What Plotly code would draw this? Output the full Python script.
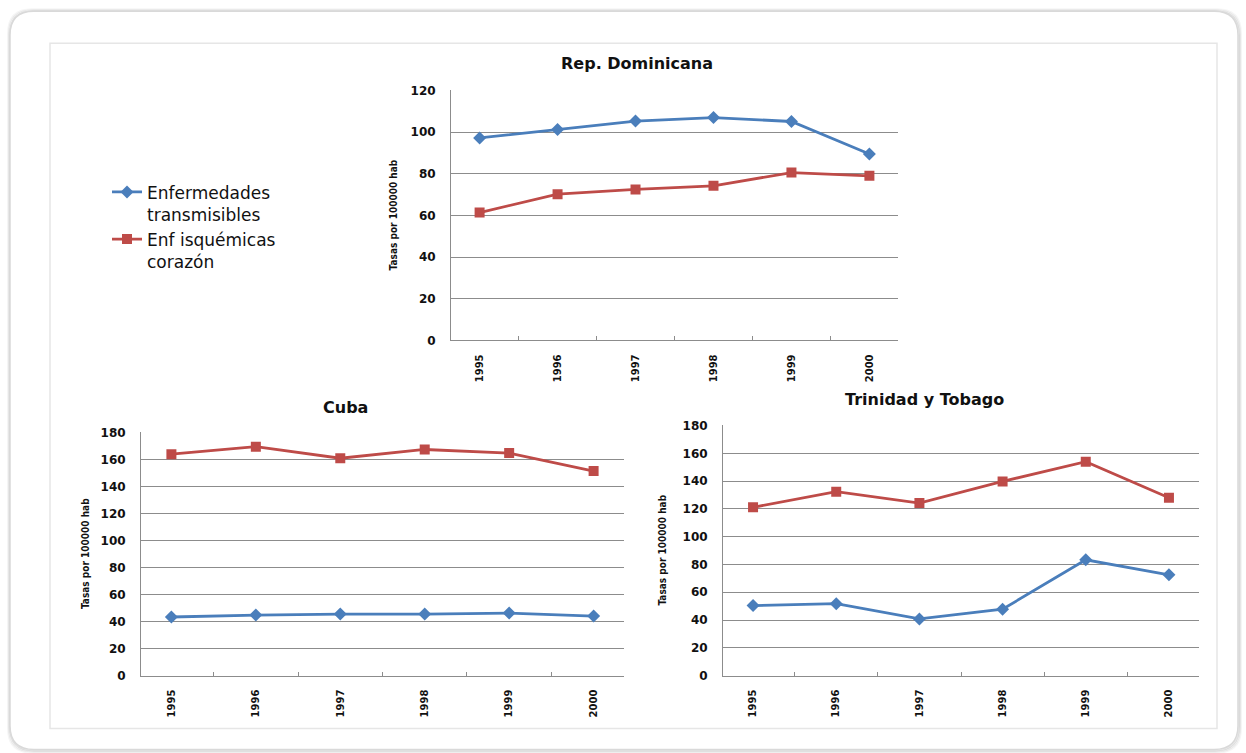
import plotly.graph_objects as go

W, H = 1246, 753

years = ["1995", "1996", "1997", "1998", "1999", "2000"]

series_names = ["Enfermedades<br>transmisibles", "Enf isquémicas<br>corazón"]

rd_transmisibles = [97.2, 101.3, 105.3, 107.0, 105.1, 89.5]
rd_isquemicas = [61.4, 70.2, 72.5, 74.2, 80.6, 79.0]

cuba_transmisibles = [43.4, 44.8, 45.6, 45.6, 46.3, 44.1]
cuba_isquemicas = [164.0, 169.6, 161.0, 167.5, 164.8, 151.5]

tt_transmisibles = [50.4, 51.8, 40.8, 47.8, 83.4, 72.6]
tt_isquemicas = [121.2, 132.4, 124.2, 139.8, 154.0, 128.0]

titles = ["Rep. Dominicana", "Cuba", "Trinidad y Tobago"]
ytitle = "Tasas por 100000 hab"

BLUE = "#4A7EBB"
RED = "#BE4B48"
GRID = "#8C8C8C"

# pixel boxes of the three plot areas: (left, right, top, bottom)
boxes = [(451, 898, 89, 339), (141, 624, 431, 674), (723, 1199, 424, 674)]
ymax = [120, 180, 180]

# vertical calibration of the capture (target px -> layout px)
Y_OFF, Y_SCALE = 5.7, 0.981


def fx(px):
    return px / W


def fy(py):
    return 1 - ((py - Y_OFF) / Y_SCALE) / H


fig = go.Figure()

data = [
    (rd_transmisibles, rd_isquemicas),
    (cuba_transmisibles, cuba_isquemicas),
    (tt_transmisibles, tt_isquemicas),
]

for i, (blue_vals, red_vals) in enumerate(data):
    sfx = "" if i == 0 else str(i + 1)
    fig.add_trace(go.Scatter(
        x=years, y=blue_vals, mode="lines+markers", name=series_names[0],
        line=dict(color=BLUE, width=2.8),
        marker=dict(symbol="diamond", size=10, color=BLUE),
        xaxis="x" + sfx, yaxis="y" + sfx, showlegend=(i == 0),
    ))
    fig.add_trace(go.Scatter(
        x=years, y=red_vals, mode="lines+markers", name=series_names[1],
        line=dict(color=RED, width=2.8),
        marker=dict(symbol="square", size=10, color=RED),
        xaxis="x" + sfx, yaxis="y" + sfx, showlegend=(i == 0),
    ))

layout = dict(
    width=W, height=H, autosize=False,
    margin=dict(l=0, r=0, t=0, b=0),
    paper_bgcolor="white", plot_bgcolor="white",
    showlegend=True,
    legend=dict(
        x=fx(107), y=fy(173), xanchor="left", yanchor="top",
        font=dict(family="DejaVu Sans", size=17, color="#111111"),
        bgcolor="rgba(0,0,0,0)", valign="top", tracegroupgap=0,
    ),
)

tick_font = dict(family="DejaVu Sans", size=12, color="#111111", weight="bold")
xtick_font = dict(family="DejaVu Sans", size=10, color="#111111", weight="bold")

annotations = []
title_pos = [(637, 62), (345, 406), (924, 398)]
ytitle_x = [393, 85, 663]

for i, (l, r, t, b) in enumerate(boxes):
    sfx = "" if i == 0 else str(i + 1)
    layout["xaxis" + sfx] = dict(
        domain=[fx(l), fx(r)], anchor="y" + sfx, type="category",
        categoryorder="array", categoryarray=years,
        tickson="boundaries", ticks="inside", ticklen=4, tickcolor=GRID,
        showline=True, linecolor=GRID, linewidth=1,
        showgrid=False, tickangle=-90, tickfont=xtick_font,
        ticklabelstandoff=9, fixedrange=True,
    )
    layout["yaxis" + sfx] = dict(
        domain=[fy(b), fy(t)], anchor="x" + sfx,
        range=[0, ymax[i] * 1.0005], dtick=20, tick0=0,
        showline=True, linecolor=GRID, linewidth=1,
        showgrid=True, gridcolor=GRID, gridwidth=1, zeroline=False,
        ticks="", tickfont=tick_font, ticklabelstandoff=12, fixedrange=True,
    )
    tx, ty = title_pos[i]
    annotations.append(dict(
        x=fx(tx), y=fy(ty), xref="paper", yref="paper",
        text="<b>" + titles[i] + "</b>", showarrow=False,
        font=dict(family="DejaVu Sans", size=16, color="#111111"),
        xanchor="center", yanchor="middle",
    ))
    annotations.append(dict(
        x=fx(ytitle_x[i]), y=fy((t + b) / 2), xref="paper", yref="paper",
        text="<b>" + ytitle + "</b>", showarrow=False, textangle=-90,
        font=dict(family="DejaVu Sans Condensed, DejaVu Sans", size=10, color="#111111"),
        xanchor="center", yanchor="middle",
    ))

layout["annotations"] = annotations


def rounded_rect(x0, y0, x1, y1, r):
    rx = r / W
    X0, X1 = fx(x0), fx(x1)
    Y0, Y1 = fy(y0), fy(y1)  # Y0 top, Y1 bottom
    ry = Y0 - fy(y0 + r)
    return (f"M {X0 + rx} {Y0} L {X1 - rx} {Y0} Q {X1} {Y0} {X1} {Y0 - ry} "
            f"L {X1} {Y1 + ry} Q {X1} {Y1} {X1 - rx} {Y1} "
            f"L {X0 + rx} {Y1} Q {X0} {Y1} {X0} {Y1 + ry} "
            f"L {X0} {Y0 - ry} Q {X0} {Y0} {X0 + rx} {Y0} Z")


shapes = []
# soft shadow of card
for k, op in [(3, 0.04), (2, 0.06), (1, 0.09)]:
    shapes.append(dict(type="path", xref="paper", yref="paper", layer="below",
                       path=rounded_rect(10 - k + 1, 10 - k + 1, 1238 + k, 748 + k, 24),
                       line=dict(color=f"rgba(0,0,0,{op})", width=2)))
shapes.append(dict(type="path", xref="paper", yref="paper", layer="below",
                   path=rounded_rect(10, 10, 1238, 748, 24),
                   line=dict(color="#d9d9d9", width=1.5), fillcolor="white"))
# inner frame
shapes.append(dict(type="rect", xref="paper", yref="paper", layer="below",
                   x0=fx(50), x1=fx(1217), y0=fy(727), y1=fy(42),
                   line=dict(color="#e6e6e6", width=1.5)))
layout["shapes"] = shapes

fig.update_layout(**layout)

post = (
    "document.documentElement.style.margin='0';"
    "document.documentElement.style.padding='0';"
    "document.documentElement.style.overflow='hidden';"
    "document.body.style.margin='0';"
    "document.body.style.padding='0';"
    "document.body.style.overflow='hidden';"
)

fig.write_html(
    "out.html",
    config={"displayModeBar": False},
    post_script=post,
)
